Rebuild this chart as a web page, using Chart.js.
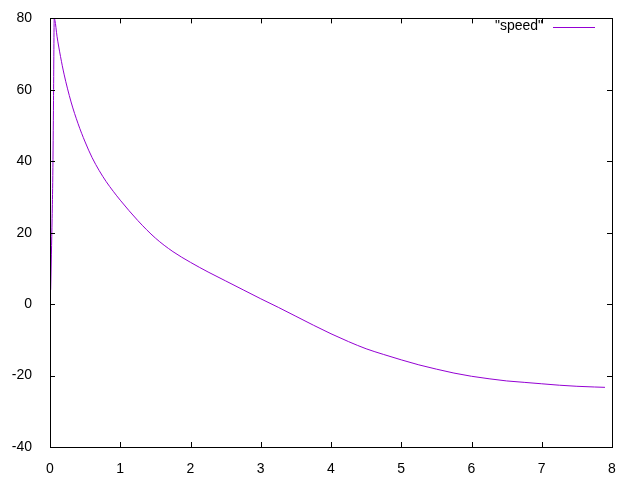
<!DOCTYPE html>
<html>
<head>
<meta charset="utf-8">
<script src="https://cdn.jsdelivr.net/npm/chart.js@4/dist/chart.umd.min.js"></script>
<style>
  html, body { margin: 0; padding: 0; background: #fff; }
  #wrap { width: 640px; height: 480px; }
</style>
</head>
<body>
<div id="wrap"><canvas id="myChart" width="640" height="480"></canvas></div>
<script>
// time values and speed
var times = [0.01, 0.02, 0.03, 0.04, 0.05, 0.06, 0.07, 0.1, 0.15, 0.2, 0.3, 0.4, 0.5, 0.6, 0.7, 0.8, 0.9,
  1.0, 1.25, 1.5, 1.75, 2.0, 2.25, 2.5, 2.75, 3.0, 3.25, 3.5, 3.75, 4.0, 4.25, 4.5, 4.75,
  5.0, 5.25, 5.5, 5.75, 6.0, 6.25, 6.5, 6.75, 7.0, 7.25, 7.5, 7.75, 7.9];
var speed = [4, 14, 24, 36, 57, 80, 79.5, 75.0, 69.3, 64.4, 56.6, 50.5, 45.4, 41.0, 37.4, 34.3, 31.6,
  29.1, 23.4, 18.5, 14.7, 11.7, 9.0, 6.5, 4.0, 1.5, -0.9, -3.4, -5.9, -8.3, -10.5, -12.5, -14.1,
  -15.6, -17.0, -18.2, -19.3, -20.2, -20.9, -21.5, -21.9, -22.3, -22.7, -23.0, -23.2, -23.3];
var xTicks = [0, 1, 2, 3, 4, 5, 6, 7, 8];
var yTicks = [-40, -20, 0, 20, 40, 60, 80];
var seriesLabel = '"speed"';
var lineColor = '#9400d3';

var points = times.map(function (t, i) { return { x: t, y: speed[i] }; });

// gnuplot style frame: border on four sides, ticks pointing inward, key at top right
var gnuFrame = {
    id: 'gnuFrame',
    afterDraw: function (chart) {
        var c = chart.ctx;
        var a = chart.chartArea;
        var xs = chart.scales.x, ys = chart.scales.y;
        var tl = 5;
        c.save();
        c.strokeStyle = '#000';
        c.lineWidth = 1;
        c.beginPath();
        xTicks.forEach(function (v) {
            var px = Math.round(xs.getPixelForValue(v)) + 0.5;
            c.moveTo(px, a.bottom); c.lineTo(px, a.bottom - tl);
            c.moveTo(px, a.top); c.lineTo(px, a.top + tl);
        });
        yTicks.forEach(function (v) {
            var py = Math.round(ys.getPixelForValue(v)) + 0.5;
            c.moveTo(a.left, py); c.lineTo(a.left + tl, py);
            c.moveTo(a.right, py); c.lineTo(a.right - tl, py);
        });
        c.stroke();
        c.strokeRect(Math.round(a.left) + 0.5, Math.round(a.top) + 0.5,
            Math.round(a.right - a.left), Math.round(a.bottom - a.top));

        // key
        c.font = '14px "Liberation Sans", Arial, sans-serif';
        c.fillStyle = '#000';
        c.textAlign = 'right';
        c.textBaseline = 'middle';
        c.fillText(seriesLabel, 543, 26);
        c.strokeStyle = lineColor;
        c.beginPath();
        c.moveTo(553, 27.5); c.lineTo(595, 27.5);
        c.stroke();
        c.restore();
    }
};

var ctx = document.getElementById('myChart');
var chart = new Chart(ctx, {
    type: 'scatter',
    data: {
        datasets: [{
            label: seriesLabel,
            data: points,
            showLine: true,
            borderColor: lineColor,
            borderWidth: 1,
            pointRadius: 0,
            cubicInterpolationMode: 'monotone',
            fill: false
        }]
    },
    options: {
        responsive: false,
        animation: false,
        layout: { padding: { top: 14, right: 28, left: 0, bottom: 0 } },
        plugins: {
            legend: { display: false },
            tooltip: { enabled: false }
        },
        scales: {
            x: {
                type: 'linear',
                min: 0, max: 8,
                grid: { display: false },
                border: { display: false },
                afterBuildTicks: function (s) { s.ticks = xTicks.map(function (v) { return { value: v }; }); },
                afterFit: function (s) { s.height = 33; },
                ticks: {
                    color: '#000',
                    padding: 6,
                    maxRotation: 0,
                    font: { family: '"Liberation Sans", Arial, sans-serif', size: 14 }
                }
            },
            y: {
                min: -40, max: 80,
                grid: { display: false },
                border: { display: false },
                afterBuildTicks: function (s) { s.ticks = yTicks.map(function (v) { return { value: v }; }); },
                afterFit: function (s) { s.width = 50; },
                ticks: {
                    color: '#000',
                    padding: 10,
                    font: { family: '"Liberation Sans", Arial, sans-serif', size: 14 }
                }
            }
        }
    },
    plugins: [gnuFrame]
});
</script>
</body>
</html>
